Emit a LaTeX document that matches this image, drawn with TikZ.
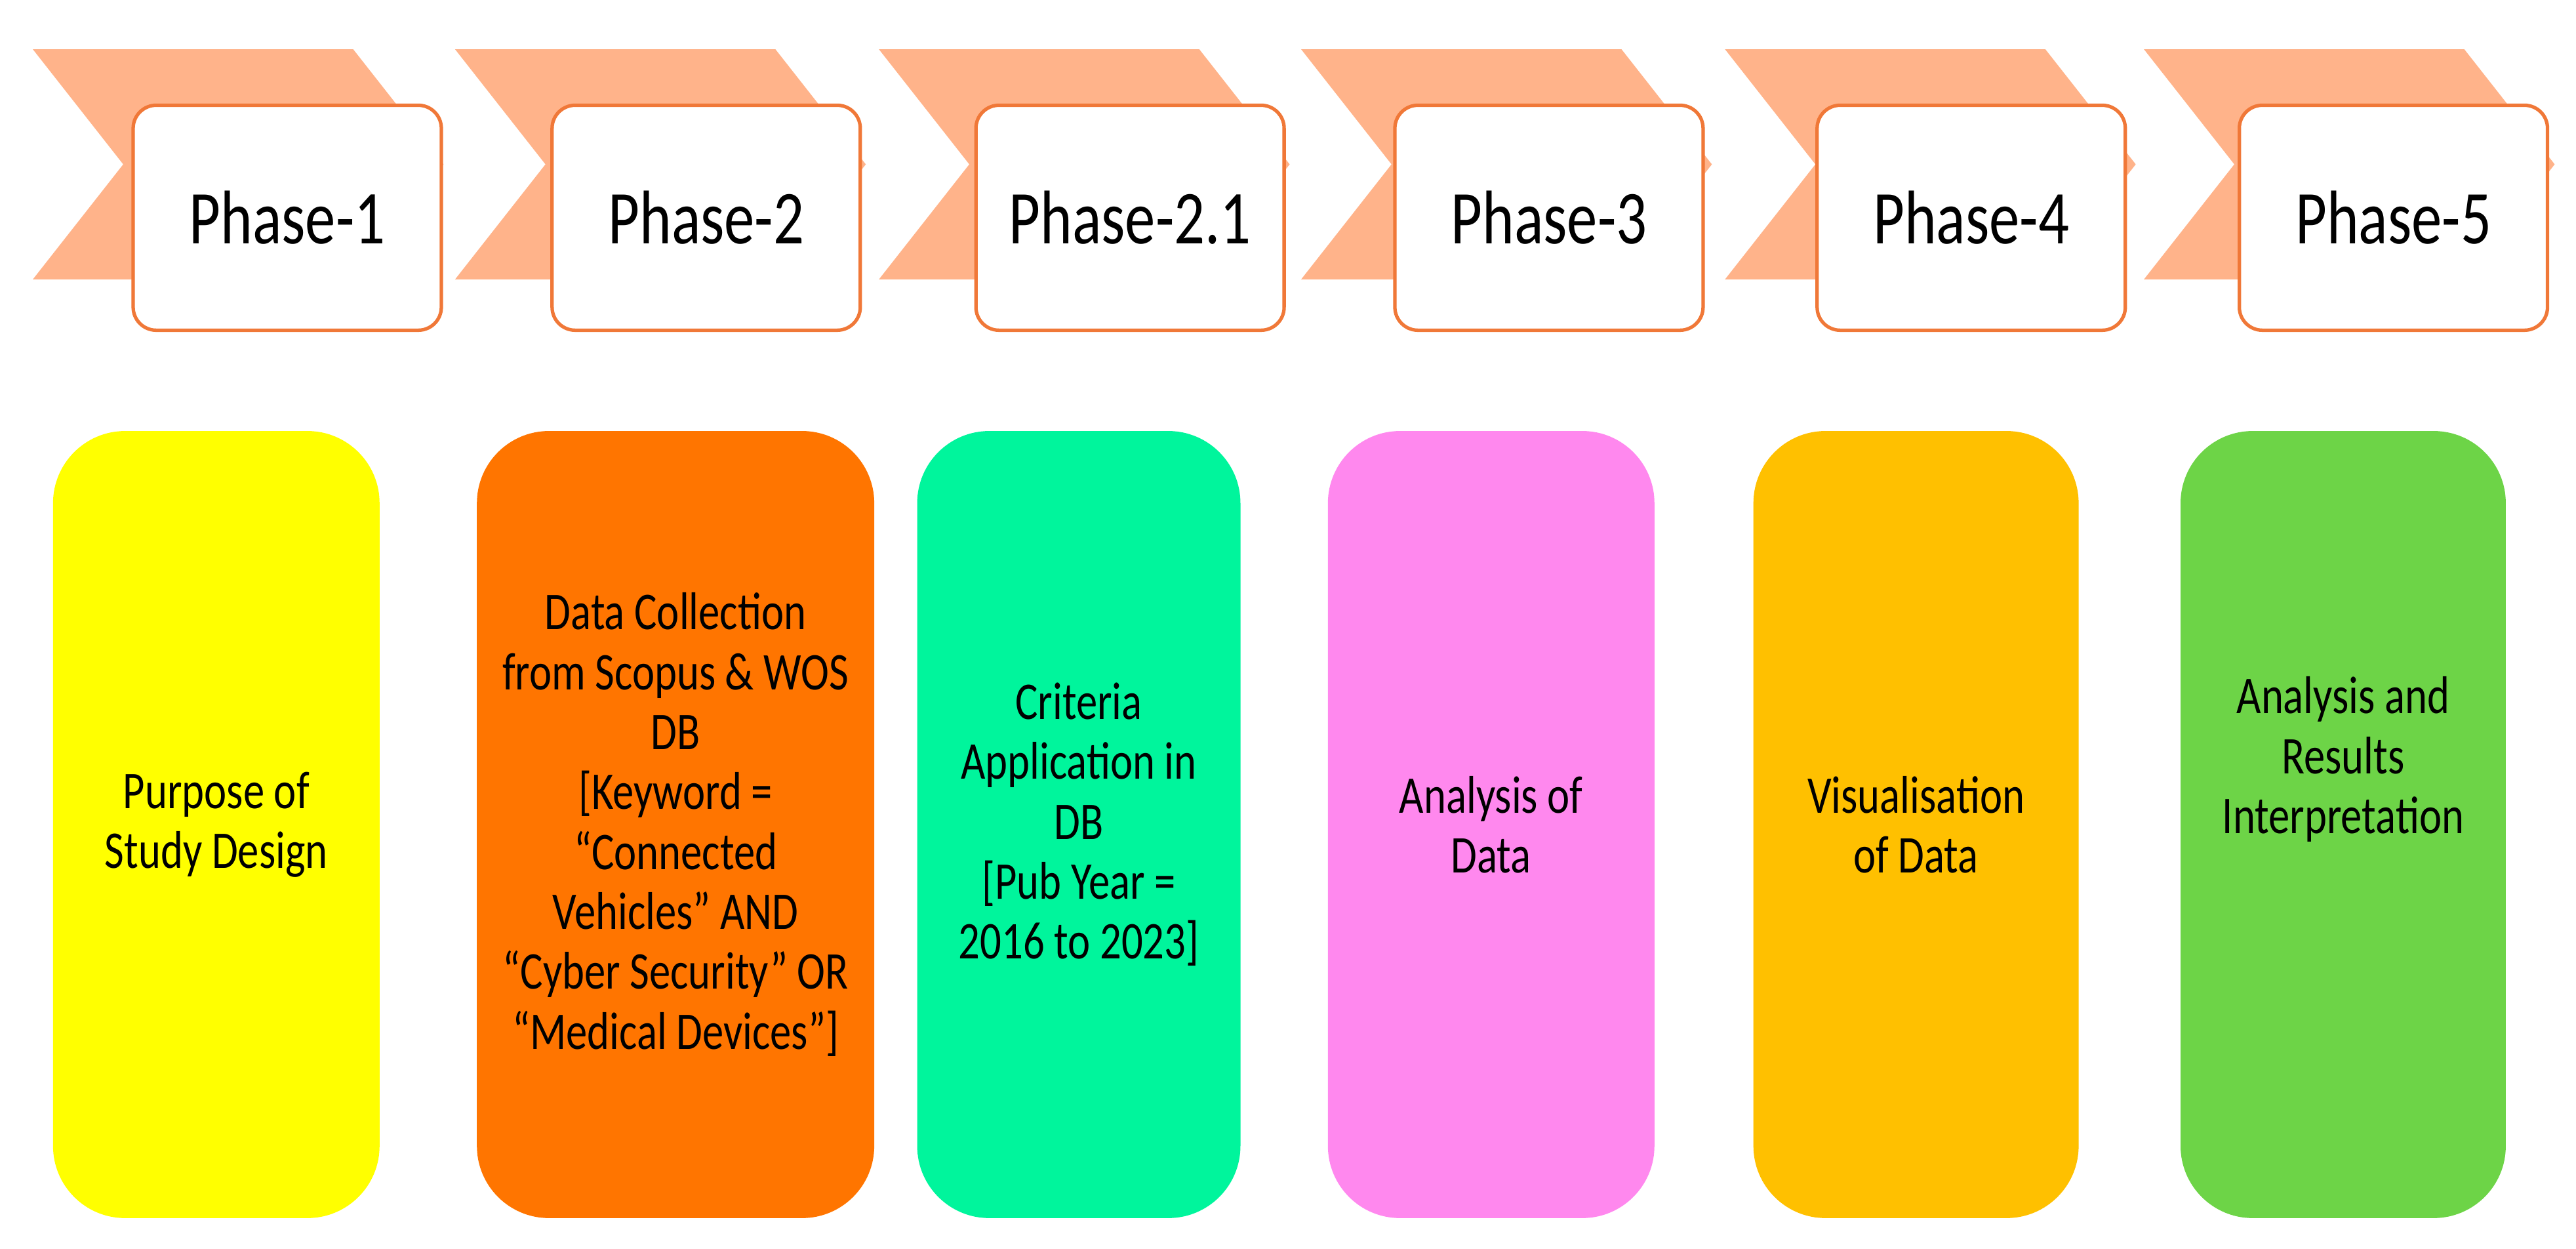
\documentclass[tikz,border=0pt]{standalone}
\usepackage{fontspec}
\setmainfont[FakeStretch=0.8]{Carlito}
\definecolor{chev}{HTML}{FFB38A}
\definecolor{edge}{HTML}{F07838}
\definecolor{cA}{HTML}{FFFF00}
\definecolor{cB}{HTML}{FF7500}
\definecolor{cC}{HTML}{00F59C}
\definecolor{cD}{HTML}{FF88EE}
\definecolor{cE}{HTML}{FFC000}
\definecolor{cF}{HTML}{6DD447}
\tikzset{
  tag/.style={draw=edge,line width=1.5pt,fill=white,rounded corners=10pt,minimum width=4.7cm,minimum height=3.43cm,anchor=north west,font=\fontsize{33}{36}\selectfont},
  block/.style={rounded corners=1.1cm,minimum width=4.98cm,minimum height=12cm,anchor=north west,align=center,inner sep=0pt,font=\fontsize{23}{26}\selectfont}
}
\begin{document}
\begin{tikzpicture}[x=0.02505cm,y=-0.02505cm]
\useasboundingbox (0,0) rectangle (1568,760);
\foreach \x/\n in {0/1,257/2,515/21,772/3,1030/4,1285/5} {
  \fill[chev] (20+\x,30) -- (215+\x,30) -- (270+\x,100) -- (215+\x,170) -- (20+\x,170) -- (75+\x,100) -- cycle;
}
\node[tag] (p1) at (80,63) {Phase-1};
\node[tag] (p2) at (335,63) {Phase-2};
\node[tag] (p21) at (593,63) {Phase-2.1};
\node[tag] (p3) at (848,63) {Phase-3};
\node[tag] (p4) at (1105,63) {Phase-4};
\node[tag] (p5) at (1362,63) {Phase-5};

\node[block,fill=cA] (s1) at (32,262) {Purpose of\\Study Design};
\node[block,fill=cB,minimum width=6.06cm] (s2) at (290,262) {Data Collection\\from Scopus \& WOS\\DB\\{}[Keyword =\\“Connected\\Vehicles” AND\\“Cyber Security” OR\\“Medical Devices”]};
\node[block,fill=cC,minimum width=4.93cm] (s21) at (558,262) {Criteria\\Application in\\DB\\{}[Pub Year =\\2016 to 2023]};
\node[block,fill=cD] (s3) at (808,262) {Analysis of\\Data};
\node[block,fill=cE,minimum width=4.96cm] (s4) at (1067,262) {Visualisation\\of Data};
\node[block,fill=cF,minimum width=4.96cm] (s5) at (1327,262) {Analysis and\\Results\\Interpretation\\[1.2cm]};
\end{tikzpicture}
\end{document}
